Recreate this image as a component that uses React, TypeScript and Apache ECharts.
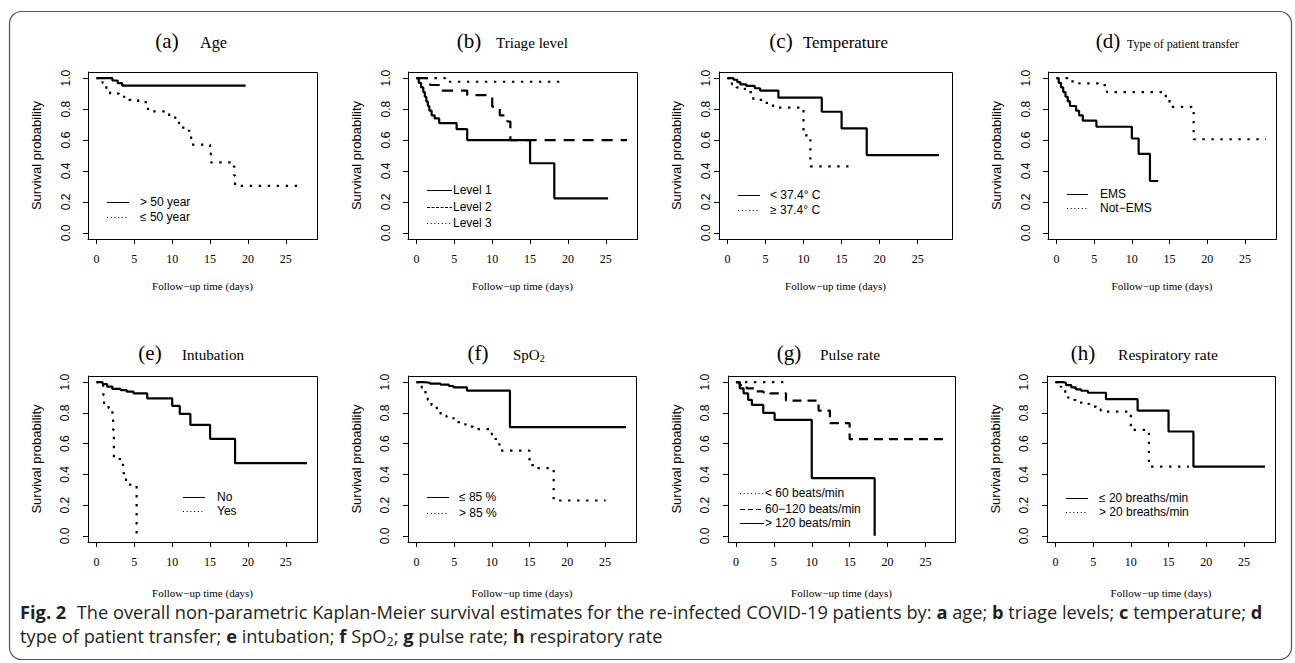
import React, { useEffect, useRef } from "react";
import * as echarts from "echarts";

type Pt = [number, number];

// ---------------- data (time in days, survival probability) ----------------
// (a) Age
const ageOver50: Pt[] = [[0, 1], [2.1, 0.985], [2.8, 0.968], [3.4, 0.952], [19.7, 0.952]];
const ageUnder50: Pt[] = [[0, 1], [0.8, 0.97], [1.3, 0.93], [1.8, 0.9], [3.0, 0.88], [4.3, 0.86], [5.5, 0.845], [6.8, 0.785], [9.6, 0.755], [10.4, 0.725], [10.9, 0.68], [11.8, 0.66], [12.4, 0.626], [12.5, 0.57], [15.0, 0.514], [15.1, 0.455], [18.1, 0.43], [18.2, 0.37], [18.3, 0.303], [26.9, 0.303]];
// (b) Triage level
const triage1: Pt[] = [[0, 1], [0.3, 0.97], [0.6, 0.94], [0.9, 0.91], [1.1, 0.88], [1.3, 0.85], [1.5, 0.82], [1.7, 0.79], [2.0, 0.76], [2.4, 0.74], [3.0, 0.71], [5.3, 0.67], [6.7, 0.6], [15.0, 0.45], [18.2, 0.223], [25.3, 0.223]];
const triage2: Pt[] = [[0, 1], [1.8, 0.956], [3.4, 0.92], [6.7, 0.89], [10.0, 0.816], [11.0, 0.76], [12.0, 0.72], [12.4, 0.6], [27.8, 0.6]];
const triage3: Pt[] = [[0, 1], [3.8, 0.977], [19.6, 0.977]];
// (c) Temperature
const tempLow: Pt[] = [[0, 1], [0.8, 0.99], [1.3, 0.975], [1.7, 0.96], [2.5, 0.95], [3.6, 0.935], [4.3, 0.92], [6.7, 0.874], [12.4, 0.783], [15.0, 0.675], [18.3, 0.503], [27.8, 0.503]];
const tempHigh: Pt[] = [[0, 1], [0.6, 0.96], [1.2, 0.94], [2.3, 0.91], [3.4, 0.86], [4.7, 0.84], [6.0, 0.81], [10.0, 0.63], [10.9, 0.43], [15.9, 0.43]];
// (d) Type of patient transfer
const emsYes: Pt[] = [[0, 1], [0.3, 0.97], [0.6, 0.94], [0.9, 0.91], [1.2, 0.88], [1.5, 0.85], [1.8, 0.82], [2.6, 0.79], [3.0, 0.76], [3.5, 0.725], [5.3, 0.686], [10.0, 0.61], [10.9, 0.51], [12.4, 0.335], [13.5, 0.335]];
const emsNo: Pt[] = [[0, 1], [1.5, 0.98], [3.0, 0.966], [5.5, 0.955], [6.7, 0.91], [14.5, 0.87], [15.0, 0.815], [18.2, 0.605], [27.8, 0.605]];
// (e) Intubation
const intubNo: Pt[] = [[0, 1], [0.8, 0.988], [1.4, 0.971], [2.1, 0.956], [3.2, 0.948], [4.0, 0.938], [4.9, 0.927], [6.7, 0.895], [10.0, 0.845], [11.0, 0.793], [12.4, 0.722], [15.0, 0.631], [18.3, 0.473], [27.8, 0.473]];
const intubYes: Pt[] = [[0, 1], [0.9, 0.917], [1.0, 0.85], [1.6, 0.83], [2.1, 0.79], [2.2, 0.69], [2.3, 0.5], [3.5, 0.43], [3.6, 0.375], [3.9, 0.333], [5.3, 0]];
// (f) SpO2
const spo2Low: Pt[] = [[0, 1], [1.0, 0.996], [1.8, 0.99], [3.2, 0.984], [4.3, 0.975], [4.9, 0.966], [6.7, 0.945], [12.4, 0.707], [27.8, 0.707]];
const spo2High: Pt[] = [[0, 1], [0.7, 0.965], [1.2, 0.917], [1.5, 0.885], [2.0, 0.85], [2.7, 0.82], [3.2, 0.78], [4.0, 0.765], [5.5, 0.74], [6.5, 0.71], [7.5, 0.695], [10.0, 0.63], [11.0, 0.555], [15.0, 0.46], [15.6, 0.44], [18.2, 0.23], [25.1, 0.23]];
// (g) Pulse rate
const pulseLow: Pt[] = [[0, 1], [6.5, 1]];
const pulseMid: Pt[] = [[0, 1], [0.5, 0.98], [1.4, 0.96], [2.5, 0.94], [3.6, 0.933], [4.5, 0.927], [6.6, 0.88], [10.9, 0.815], [12.4, 0.733], [15.0, 0.629], [27.8, 0.629]];
const pulseHigh: Pt[] = [[0, 1], [0.5, 0.96], [1.0, 0.927], [1.6, 0.885], [2.1, 0.852], [3.6, 0.8], [5.1, 0.755], [10.0, 0.375], [18.3, 0]];
// (h) Respiratory rate
const respLow: Pt[] = [[0, 1], [1.0, 0.996], [1.4, 0.981], [2.1, 0.966], [2.7, 0.953], [3.4, 0.944], [4.3, 0.931], [6.7, 0.889], [10.9, 0.815], [15.0, 0.679], [18.3, 0.451], [27.8, 0.451]];
const respHigh: Pt[] = [[0, 1], [0.7, 0.97], [1.3, 0.9], [2.1, 0.884], [2.7, 0.867], [3.6, 0.858], [4.5, 0.841], [5.4, 0.824], [6.0, 0.808], [10.0, 0.689], [12.4, 0.451], [17.7, 0.451]];

const xTickValues = [0, 5, 10, 15, 20, 25];
const yTickValues = [0, 0.2, 0.4, 0.6, 0.8, 1.0];

const panelLetters = ["(a)", "(b)", "(c)", "(d)", "(e)", "(f)", "(g)", "(h)"];
const panelTitles = ["Age", "Triage level", "Temperature", "Type of patient transfer", "Intubation", "SpO2", "Pulse rate", "Respiratory rate"];
const xAxisTitle = "Follow\u2212up time (days)";
const yAxisTitle = "Survival probability";

type Kind = "solid" | "dashed" | "dotted";
interface S { name: string; data: Pt[]; kind: Kind }
const panelSeries: S[][] = [
  [{ name: "> 50 year", data: ageOver50, kind: "solid" }, { name: "\u2264 50 year", data: ageUnder50, kind: "dotted" }],
  [{ name: "Level 1", data: triage1, kind: "solid" }, { name: "Level 2", data: triage2, kind: "dashed" }, { name: "Level 3", data: triage3, kind: "dotted" }],
  [{ name: "< 37.4\u00b0 C", data: tempLow, kind: "solid" }, { name: "\u2265 37.4\u00b0 C", data: tempHigh, kind: "dotted" }],
  [{ name: "EMS", data: emsYes, kind: "solid" }, { name: "Not\u2212EMS", data: emsNo, kind: "dotted" }],
  [{ name: "No", data: intubNo, kind: "solid" }, { name: "Yes", data: intubYes, kind: "dotted" }],
  [{ name: "\u2264 85 %", data: spo2Low, kind: "solid" }, { name: "> 85 %", data: spo2High, kind: "dotted" }],
  [{ name: "< 60 beats/min", data: pulseLow, kind: "dotted" }, { name: "60\u2212120 beats/min", data: pulseMid, kind: "dashed" }, { name: "> 120 beats/min", data: pulseHigh, kind: "solid" }],
  [{ name: "\u2264 20 breaths/min", data: respLow, kind: "solid" }, { name: "> 20 breaths/min", data: respHigh, kind: "dotted" }],
];

// ---------------- layout (pixel positions, styles) ----------------
interface Lay {
  box: [number, number, number, number];
  xr: [number, number];
  lm: number; ng: number; xg: number;
  tcx: number; tnx: number; tnw: number; ty: number;
  lg: { x1: number; x2: number; tx: number; ys: number[] };
  dash: number[]; ldash: number[];
}
const TOP = 72, BOT = 376, TH = 167, BH = 166;
const layouts: Lay[] = [
  { box: [88, TOP, 229, TH], xr: [-1.12, 29.12], lm: 16, ng: 45, xg: 41, tcx: 167, tnx: 200, tnw: 27, ty: 48.5, lg: { x1: 107, x2: 129, tx: 140, ys: [202, 217] }, dash: [11, 8], ldash: [3, 1.5] },
  { box: [408, TOP, 229, TH], xr: [-1.12, 29.12], lm: 16, ng: 45, xg: 41, tcx: 469, tnx: 496, tnw: 72, ty: 48.5, lg: { x1: 427, x2: 452, tx: 453, ys: [190, 207, 223] }, dash: [11, 8], ldash: [3, 1.5] },
  { box: [719, TOP, 233, TH], xr: [-1.1, 29.5], lm: 7, ng: 36, xg: 41, tcx: 781, tnx: 803, tnw: 85, ty: 48.5, lg: { x1: 738, x2: 760, tx: 770, ys: [195, 210] }, dash: [11, 8], ldash: [3, 1.5] },
  { box: [1048, TOP, 228, TH], xr: [-1.12, 29.12], lm: 16, ng: 45, xg: 41, tcx: 1108, tnx: 1127, tnw: 112, ty: 48.5, lg: { x1: 1067, x2: 1088, tx: 1100, ys: [194, 208] }, dash: [11, 8], ldash: [3, 1.5] },
  { box: [88, BOT, 229, BH], xr: [-1.12, 29.12], lm: 17, ng: 45, xg: 45, tcx: 150, tnx: 182, tnw: 62, ty: 360, lg: { x1: 183, x2: 205, tx: 217, ys: [497, 511] }, dash: [9, 6], ldash: [5, 3] },
  { box: [408, BOT, 228, BH], xr: [-1.12, 29.12], lm: 17, ng: 45, xg: 45, tcx: 478, tnx: 513, tnw: 34, ty: 360, lg: { x1: 427, x2: 449, tx: 459, ys: [497, 513] }, dash: [9, 6], ldash: [5, 3] },
  { box: [728, BOT, 227, BH], xr: [-1.05, 28.9], lm: 17, ng: 45, xg: 45, tcx: 789, tnx: 820, tnw: 60, ty: 360, lg: { x1: 740, x2: 764, tx: 765, ys: [493, 509, 523] }, dash: [9, 6], ldash: [5, 3] },
  { box: [1047, BOT, 228, BH], xr: [-1.12, 29.12], lm: 17, ng: 45, xg: 45, tcx: 1083, tnx: 1118, tnw: 100, ty: 360, lg: { x1: 1066, x2: 1088, tx: 1099, ys: [498, 512] }, dash: [9, 6], ldash: [5, 3] },
];

const SERIF = "'Liberation Serif', 'Times New Roman', serif";
const SANS = "'Liberation Sans', Arial, sans-serif";
const CAP = "'Open Sans', 'Noto Sans', sans-serif";

function buildOption() {
  const cv = document.createElement("canvas");
  const ctx = cv.getContext("2d")!;
  const tw = (t: string, font: string) => {
    ctx.font = font;
    return ctx.measureText(t).width;
  };

  const grid: any[] = [];
  const xAxis: any[] = [];
  const yAxis: any[] = [];
  const series: any[] = [];
  const graphic: any[] = [];

  graphic.push({
    type: "rect",
    shape: { x: 9.5, y: 11.5, width: 1282, height: 648, r: 12 },
    style: { fill: null, stroke: "#555", lineWidth: 1.2 },
    silent: true,
  });

  layouts.forEach((L, i) => {
    grid.push({
      left: L.box[0], top: L.box[1], width: L.box[2], height: L.box[3],
      show: false,
    });
    // plot box outline, on half-pixel coordinates so it is drawn crisp
    graphic.push({
      type: "rect", silent: true, z: 50,
      shape: { x: L.box[0] + 0.5, y: L.box[1] + 0.5, width: L.box[2], height: L.box[3] },
      style: { fill: null, stroke: "#000", lineWidth: 1 },
    });
    xAxis.push({
      type: "value", gridIndex: i, min: L.xr[0], max: L.xr[1], position: "bottom",
      axisLine: { show: true, onZero: false, lineStyle: { color: "#000", width: 1 } },
      axisTick: { show: true, length: 5, lineStyle: { color: "#000", width: 1 }, customValues: xTickValues },
      axisLabel: { customValues: xTickValues, fontFamily: SERIF, fontSize: 12, color: "#000", margin: 14 },
      splitLine: { show: false },
      name: xAxisTitle, nameLocation: "middle", nameGap: L.xg,
      nameTextStyle: { fontFamily: SERIF, fontSize: 11, color: "#000" },
    });
    yAxis.push({
      type: "value", gridIndex: i, min: -0.04, max: 1.04, position: "left",
      axisLine: { show: true, onZero: false, lineStyle: { color: "#000", width: 1 } },
      axisTick: { show: true, length: 5, lineStyle: { color: "#000", width: 1 }, customValues: yTickValues },
      axisLabel: {
        customValues: yTickValues, rotate: 90, fontFamily: SANS, fontSize: 12, color: "#000", margin: L.lm,
        formatter: (v: number) => v.toFixed(1),
      },
      splitLine: { show: false },
      name: yAxisTitle, nameLocation: "middle", nameGap: L.ng, nameRotate: 90,
      nameTextStyle: { fontFamily: SANS, fontSize: 13, color: "#000" },
    });

    panelSeries[i].forEach((s) => {
      const type = s.kind === "solid" ? "solid" : s.kind === "dashed" ? L.dash : [2.4, 6.6];
      series.push({
        type: "line", name: s.name, xAxisIndex: i, yAxisIndex: i, data: s.data,
        step: "end", symbol: "none", showSymbol: false,
        lineStyle: { color: "#000", width: 2.2, type },
      });
    });

    // panel title
    const letterSize = 21;
    graphic.push({
      type: "text", x: L.tcx, y: L.ty - 0.34 * letterSize, silent: true,
      style: { text: panelLetters[i], fontFamily: SERIF, fontSize: letterSize, fill: "#000", align: "center", verticalAlign: "middle" },
    });
    const title = panelTitles[i];
    let nameSize = 15;
    let text = title;
    if (title === "SpO2") {
      text = "SpO{s|2}";
    } else {
      const w = tw(title, `15px ${SERIF}`);
      nameSize = Math.max(11, Math.min(19, (15 * L.tnw) / w));
    }
    graphic.push({
      type: "text", x: L.tnx, y: L.ty - 0.34 * nameSize, silent: true,
      style: {
        text, fontFamily: SERIF, fontSize: nameSize, fill: "#000", align: "left", verticalAlign: "middle",
        lineHeight: 18,
        rich: { s: { fontFamily: SERIF, fontSize: 10, lineHeight: 10, verticalAlign: "bottom" } },
      },
    });

    // legend
    panelSeries[i].forEach((s, k) => {
      const y = L.lg.ys[k] + 0.5;
      const st: any = { stroke: "#000", lineWidth: 1 };
      if (s.kind === "dashed") st.lineDash = L.ldash;
      if (s.kind === "dotted") st.lineDash = [1, 2.7];
      graphic.push({
        type: "line", silent: true,
        shape: { x1: L.lg.x1, y1: y, x2: L.lg.x2, y2: y },
        style: st,
      });
      graphic.push({
        type: "text", x: L.lg.tx, y: L.lg.ys[k], silent: true,
        style: { text: s.name, fontFamily: SANS, fontSize: 12, fill: "#000", align: "left", verticalAlign: "middle" },
      });
    });
  });

  // caption
  const cs = 17.5;
  const nf = `${cs}px ${CAP}`;
  const bf = `bold ${cs}px ${CAP}`;
  const figPad = 10;
  const l1 =
    tw("Fig. 2", bf) + figPad +
    tw("The overall non-parametric Kaplan-Meier survival estimates for the re-infected COVID-19 patients by: ", nf) +
    tw("a ", bf) + tw("age; ", nf) + tw("b ", bf) + tw("triage levels; ", nf) + tw("c ", bf) + tw("temperature; ", nf) + tw("d", bf);
  const targetW = 1242;
  const sc = targetW / l1;
  const capText =
    "{fig|Fig. 2}The overall non-parametric Kaplan-Meier survival estimates for the re-infected COVID-19 patients by: {b|a }age; {b|b }triage levels; {b|c }temperature; {b|d}\n" +
    "type of patient transfer; {b|e }intubation; {b|f }SpO{s|2}; {b|g }pulse rate; {b|h }respiratory rate";
  graphic.push({
    type: "text", x: 20, y: 600, scaleX: sc, scaleY: 1, silent: true,
    style: {
      text: capText, fontFamily: CAP, fontSize: cs, fill: "#231f20", align: "left", verticalAlign: "top", lineHeight: 24,
      rich: {
        fig: { fontFamily: CAP, fontSize: cs, fontWeight: "bold", padding: [0, figPad, 0, 0], lineHeight: 24 },
        b: { fontFamily: CAP, fontSize: cs, fontWeight: "bold", lineHeight: 24 },
        s: { fontFamily: CAP, fontSize: 12, lineHeight: 12, verticalAlign: "bottom" },
      },
    },
  });

  return { animation: false, grid, xAxis, yAxis, series, graphic };
}

export default function App() {
  const ref = useRef<HTMLDivElement>(null);
  useEffect(() => {
    if (!ref.current) return;
    const chart = echarts.init(ref.current, undefined, { renderer: "svg", width: 1295, height: 663 });
    chart.setOption(buildOption() as any);
    return () => chart.dispose();
  }, []);
  return <div ref={ref} style={{ position: "absolute", left: 0, top: 0, width: 1295, height: 663 }} />;
}
